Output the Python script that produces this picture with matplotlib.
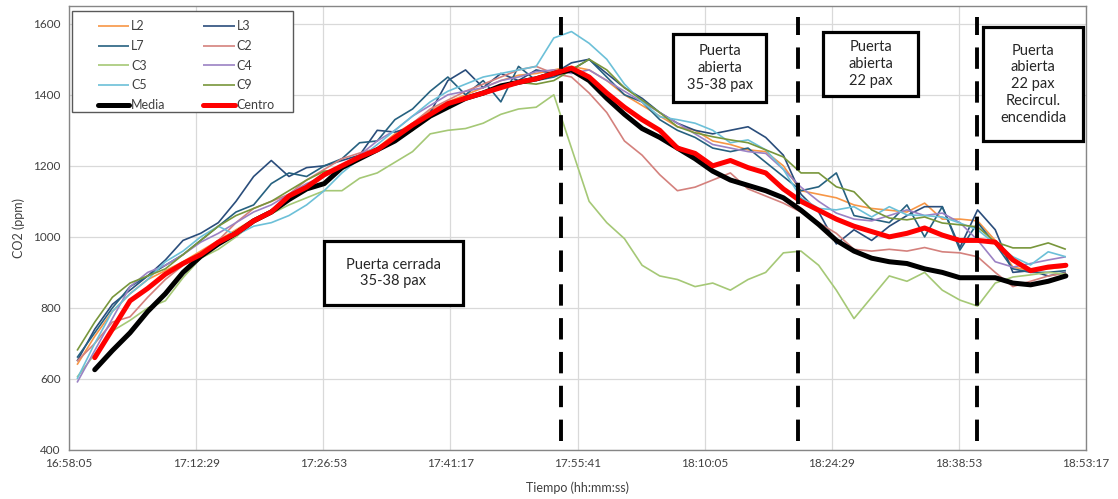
import matplotlib
matplotlib.use("Agg")
import matplotlib.pyplot as plt
import numpy as np
import pandas as pd
from matplotlib.patches import Rectangle
from matplotlib.ticker import FuncFormatter, MultipleLocator

plt.rcParams["font.family"] = ["Lato", "DejaVu Sans"]

# readings every 2 min, 16:59 -> 18:51
START = pd.Timestamp("2020-01-01 16:58:05")
times = pd.date_range("2020-01-01 16:59:00", periods=57, freq="2min")

L2 = [640, 720, 790, 840, 880, 905, 930, 960, 990, 1020, 1050, 1075, 1110, 1140, 1180,
      1195, 1230, 1250, 1290, 1320, 1355, 1380, 1400, 1420, 1440, 1455, 1460, 1470, 1480,
      1470, 1440, 1400, 1370, 1340, 1310, 1300, 1270, 1260, 1245, 1240, 1200, 1130, 1120,
      1110, 1090, 1080, 1075, 1070, 1095, 1050, 1050, 1045, 990, 915, 905, 910, 915]
L3 = [650, 740, 810, 850, 890, 935, 990, 1010, 1040, 1100, 1170, 1215, 1170, 1195, 1200,
      1215, 1230, 1300, 1295, 1310, 1350, 1440, 1470, 1420, 1460, 1440, 1470, 1460, 1490,
      1500, 1460, 1420, 1390, 1350, 1320, 1300, 1290, 1300, 1310, 1280, 1230, 1120, 1070,
      980, 1020, 990, 1030, 1060, 1085, 1085, 970, 1076, 1020, 900, 905, 890, 900]
L7 = [660, 730, 800, 860, 890, 920, 950, 990, 1030, 1070, 1090, 1150, 1180, 1170, 1200,
      1220, 1265, 1270, 1330, 1360, 1410, 1450, 1400, 1440, 1380, 1480, 1440, 1450, 1470,
      1500, 1450, 1400, 1380, 1330, 1300, 1280, 1250, 1240, 1250, 1210, 1170, 1130, 1141,
      1180, 1060, 1050, 1040, 1090, 1000, 1085, 963, 1040, 980, 910, 900, 900, 905]
C2 = [650, 700, 760, 775, 830, 880, 920, 950, 990, 1040, 1080, 1100, 1120, 1160, 1190,
      1220, 1236, 1250, 1280, 1320, 1360, 1385, 1410, 1430, 1450, 1470, 1480, 1460, 1450,
      1405, 1350, 1270, 1230, 1175, 1130, 1140, 1160, 1180, 1135, 1115, 1095, 1070, 1040,
      1010, 965, 960, 965, 960, 970, 958, 955, 944, 900, 860, 875, 890, 898]
C3 = [605, 670, 735, 765, 800, 820, 885, 940, 965, 1000, 1040, 1065, 1090, 1110, 1130,
      1130, 1165, 1180, 1210, 1240, 1290, 1300, 1305, 1320, 1345, 1360, 1365, 1400, 1250,
      1100, 1040, 995, 920, 890, 880, 860, 870, 850, 880, 900, 955, 960, 920,
      850, 770, 830, 890, 875, 900, 850, 822, 805, 870, 887, 893, 900, 895]
C4 = [590, 680, 770, 860, 900, 920, 950, 985, 1010, 1040, 1070, 1090, 1120, 1150, 1170,
      1200, 1230, 1270, 1300, 1340, 1370, 1400, 1410, 1420, 1440, 1450, 1465, 1470, 1460,
      1470, 1440, 1410, 1380, 1350, 1320, 1290, 1260, 1250, 1240, 1235, 1190, 1140, 1100,
      1067, 1050, 1045, 1060, 1076, 1060, 1067, 1040, 991, 930, 915, 925, 935, 944]
C5 = [600, 700, 790, 840, 880, 930, 960, 1000, 1030, 1005, 1030, 1040, 1060, 1090, 1130,
      1180, 1220, 1260, 1300, 1340, 1380, 1410, 1430, 1450, 1460, 1470, 1480, 1560, 1578,
      1545, 1500, 1430, 1380, 1338, 1330, 1320, 1300, 1265, 1273, 1245, 1190, 1110, 1080,
      1076, 1085, 1056, 1085, 1062, 1060, 1056, 1039, 1020, 980, 944, 921, 958, 944]
C9 = [680, 760, 830, 870, 890, 910, 950, 990, 1030, 1060, 1080, 1100, 1130, 1160, 1185,
      1190, 1220, 1250, 1270, 1300, 1345, 1370, 1390, 1400, 1420, 1435, 1430, 1440, 1470,
      1500, 1470, 1420, 1385, 1350, 1310, 1293, 1282, 1273, 1265, 1245, 1225, 1180, 1180,
      1141, 1127, 1076, 1053, 1048, 1056, 1039, 1034, 1028, 986, 969, 969, 983, 965]
Media = [np.nan, 626, 680, 730, 790, 840, 900, 945, 980, 1010, 1045, 1070, 1105, 1135, 1150,
         1195, 1220, 1245, 1270, 1305, 1340, 1365, 1390, 1405, 1425, 1435, 1445, 1460, 1470,
         1440, 1390, 1345, 1305, 1280, 1250, 1220, 1185, 1160, 1145, 1130, 1110, 1075, 1035,
         990, 960, 940, 930, 925, 910, 900, 885, 885, 885, 870, 865, 875, 890]
Centro = [np.nan, 660, 740, 820, 855, 895, 925, 950, 985, 1010, 1045, 1070, 1115, 1140, 1175,
          1200, 1225, 1245, 1280, 1315, 1345, 1375, 1390, 1405, 1420, 1435, 1445, 1460, 1475,
          1450, 1405, 1365, 1330, 1300, 1250, 1235, 1200, 1215, 1195, 1180, 1135, 1100, 1075,
          1050, 1030, 1015, 1000, 1010, 1025, 1005, 990, 990, 985, 935, 905, 915, 920]

series = {"L2": L2, "L3": L3, "L7": L7, "C2": C2, "C3": C3,
          "C4": C4, "C5": C5, "C9": C9, "Media": Media, "Centro": Centro}
colors = {"L2": "#F79646", "L3": "#2A4D7B", "L7": "#266180", "C2": "#D4817D",
          "C3": "#A5C876", "C4": "#9B82C4", "C5": "#6CC0D8", "C9": "#78963B",
          "Media": "#000000", "Centro": "#FF0000"}

# door / ventilation events
events = ["17:53:51", "18:20:40", "18:40:55"]
notes = ["Puerta cerrada\n35-38 pax",
         "Puerta\nabierta\n35-38 pax",
         "Puerta\nabierta\n22 pax",
         "Puerta\nabierta\n22 pax\nRecircul.\nencendida"]

t = (times - START).total_seconds().to_numpy()
ev = [(pd.Timestamp("2020-01-01 " + e) - START).total_seconds() for e in events]


def fmt_time(v, pos):
    s = int(round(v)) + 16 * 3600 + 58 * 60 + 5
    return f"{s // 3600}:{(s % 3600) // 60:02d}:{s % 60:02d}"


fig = plt.figure(figsize=(11.18, 4.99), dpi=100)
ax = fig.add_axes([0.0617, 0.0982, 0.9097, 0.8898])

handles = []
for name, vals in series.items():
    thick = name in ("Media", "Centro")
    h, = ax.plot(t, vals, color=colors[name], lw=3.6 if thick else 1.2,
                 label=name, zorder=4 if thick else 3,
                 solid_capstyle="round" if thick else "butt")
    handles.append(h)

for x in ev:
    ax.axvline(x, ymin=0.02, ymax=0.975, color="black", lw=2.8,
               dashes=(5.5, 3.2), zorder=5)

ax.set_xlim(0, 8 * 864)
ax.set_ylim(400, 1650)
ax.xaxis.set_major_locator(MultipleLocator(864))
ax.xaxis.set_major_formatter(FuncFormatter(fmt_time))
ax.set_yticks(np.arange(400, 1601, 200))
ax.grid(True, color="#D9D9D9", lw=0.9)
ax.set_axisbelow(True)
for sp in ax.spines.values():
    sp.set_color("#868686")
    sp.set_linewidth(1.0)
ax.tick_params(length=0, labelsize=8.5, colors="#404040", pad=6)

ax.set_xlabel("Tiempo (hh:mm:ss)", fontsize=9, color="#404040", labelpad=9)
ax.set_ylabel("CO2 (ppm)", fontsize=9, color="#404040", labelpad=6)

# annotation boxes (axes fraction)
boxes = [(0.2507, 0.3266, 0.1367, 0.1441),
         (0.5939, 0.7838, 0.0915, 0.1531),
         (0.7414, 0.7973, 0.0934, 0.1441),
         (0.8987, 0.6959, 0.0984, 0.2568)]
for (bx, by, bw, bh), txt in zip(boxes, notes):
    ax.add_patch(Rectangle((bx, by), bw, bh, transform=ax.transAxes,
                           facecolor="white", edgecolor="black", lw=2.3, zorder=6))
    ax.text(bx + bw / 2, by + bh / 2, txt, transform=ax.transAxes,
            ha="center", va="center", fontsize=10.5, linespacing=1.25,
            color="#262626", zorder=7)

# legend: frame drawn separately so the side padding can differ from the top one
ax.add_patch(Rectangle((0.003, 0.7613), 0.2173, 0.2274, transform=ax.transAxes,
                       facecolor="white", edgecolor="#595959", lw=1.0, zorder=8))
order = handles[0::2] + handles[1::2]
leg = ax.legend(order, [h.get_label() for h in order], ncol=2,
                loc="upper left", bbox_to_anchor=(0.0226, 0.982),
                fontsize=9, handlelength=2.5, handletextpad=0.15,
                labelspacing=0.62, columnspacing=3.0, borderpad=0.0,
                frameon=False)
leg.set_zorder(9)
for txt in leg.get_texts():
    txt.set_color("#404040")

fig.savefig("out.png", dpi=100)
